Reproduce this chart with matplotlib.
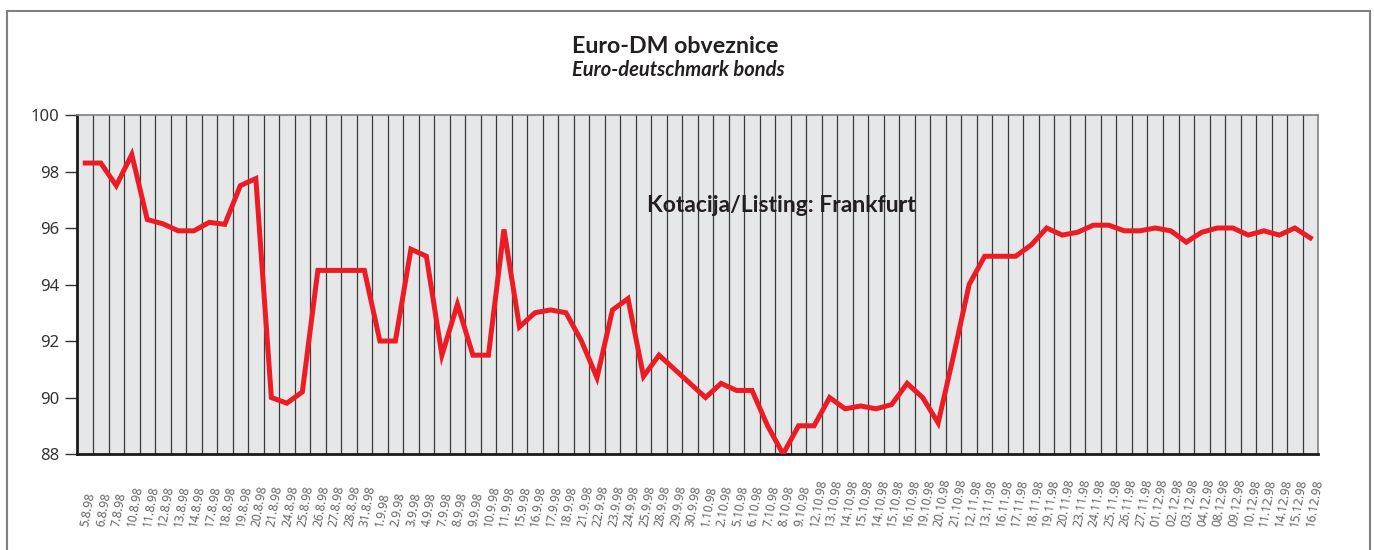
import numpy as np
import matplotlib
matplotlib.use("Agg")
import matplotlib.pyplot as plt
from matplotlib.patches import Rectangle

plt.rcParams['font.family'] = ['Noto Sans', 'DejaVu Sans']

dates = [
    '5.8.98', '6.8.98', '7.8.98', '10.8.98', '11.8.98', '12.8.98', '13.8.98', '14.8.98',
    '17.8.98', '18.8.98', '19.8.98', '20.8.98', '21.8.98', '24.8.98', '25.8.98', '26.8.98',
    '27.8.98', '28.8.98', '31.8.98', '1.9.98', '2.9.98', '3.9.98', '4.9.98', '7.9.98',
    '8.9.98', '9.9.98', '10.9.98', '11.9.98', '15.9.98', '16.9.98', '17.9.98', '18.9.98',
    '21.9.98', '22.9.98', '23.9.98', '24.9.98', '25.9.98', '28.9.98', '29.9.98', '30.9.98',
    '1.10.98', '2.10.98', '5.10.98', '6.10.98', '7.10.98', '8.10.98', '9.10.98', '12.10.98',
    '13.10.98', '14.10.98', '15.10.98', '14.10.98', '15.10.98', '16.10.98', '19.10.98', '20.10.98',
    '21.10.98', '12.11.98', '13.11.98', '16.11.98', '17.11.98', '18.11.98', '19.11.98', '20.11.98',
    '23.11.98', '24.11.98', '25.11.98', '26.11.98', '27.11.98', '01.12.98', '02.12.98', '03.12.98',
    '04.12.98', '08.12.98', '09.12.98', '10.12.98', '11.12.98', '14.12.98', '15.12.98', '16.12.98',
]

prices = [
    98.3, 98.3, 97.5, 98.6, 96.3, 96.15, 95.9, 95.9,
    96.2, 96.13, 97.5, 97.75, 90.0, 89.8, 90.2, 94.5,
    94.5, 94.5, 94.5, 92.0, 92.0, 95.25, 95.0, 91.5,
    93.3, 91.5, 91.5, 95.95, 92.5, 93.0, 93.1, 93.0,
    92.0, 90.7, 93.1, 93.5, 90.75, 91.5, 91.0, 90.5,
    90.0, 90.5, 90.25, 90.25, 89.0, 88.0, 89.0, 89.0,
    90.0, 89.6, 89.7, 89.6, 89.75, 90.5, 90.0, 89.1,
    91.5, 94.0, 95.0, 95.0, 95.0, 95.4, 96.0, 95.75,
    95.85, 96.1, 96.1, 95.9, 95.9, 96.0, 95.9, 95.5,
    95.85, 96.0, 96.0, 95.75, 95.9, 95.75, 96.0, 95.65,
]

yticks = [88, 90, 92, 94, 96, 98, 100]

fig = plt.figure(figsize=(13.74, 5.5), dpi=100)
ax = fig.add_axes([0.0564, 0.1745, 0.9029, 0.6164])

x = np.arange(len(prices))
ax.plot(x, prices, color='#ed1c24', lw=3.6, solid_joinstyle='miter', zorder=3)

ax.set_facecolor('#e6e7e8')
ax.set_xlim(-0.5, len(prices) - 0.5)
ax.set_ylim(88, 100)
ax.set_yticks(yticks)
ax.set_yticklabels([str(v) for v in yticks])

ax.set_xticks(x)
ax.set_xticklabels(dates, rotation=80, ha='left', va='center',
                   rotation_mode='anchor', fontsize=8.7, color='#666666')
ax.set_xticks(np.arange(0.5, len(prices) - 1, 1), minor=True)
ax.grid(which='minor', axis='x', color='#3a3a3a', lw=0.9, zorder=1)
ax.tick_params(axis='x', which='both', length=0, pad=52)
ax.tick_params(axis='y', length=9, width=1, color='#333333', labelsize=12,
               labelcolor='#333333', pad=4)

for side in ['left', 'bottom']:
    ax.spines[side].set_color('#1a1a1a')
    ax.spines[side].set_linewidth(2.0)
for side in ['top', 'right']:
    ax.spines[side].set_color('#808080')
    ax.spines[side].set_linewidth(1.2)

ax.text(44.9, 96.57, 'Kotacija/Listing: Frankfurt', ha='center', va='baseline',
        fontsize=16.5, fontweight='bold', color='#231f20', zorder=4,
        family=['Lato', 'DejaVu Sans'])

fig.text(572 / 1374, 1 - 53 / 550, 'Euro-DM obveznice', ha='left', va='baseline',
         fontsize=16.7, fontweight='bold', color='#231f20',
         family=['Lato', 'DejaVu Sans'])
fig.text(572 / 1374, 1 - 76 / 550, 'Euro-deutschmark bonds', ha='left', va='baseline',
         fontsize=14.5, fontweight='bold', style='italic', color='#231f20',
         family=['Lato', 'DejaVu Sans'])

# outer frame
fig.patches.append(Rectangle((7 / 1374, -0.05), (1370 - 7) / 1374, 1.05 - 11 / 550,
                             transform=fig.transFigure, fill=False,
                             edgecolor='#808080', lw=1.5))

plt.savefig('out.png', dpi=100)
